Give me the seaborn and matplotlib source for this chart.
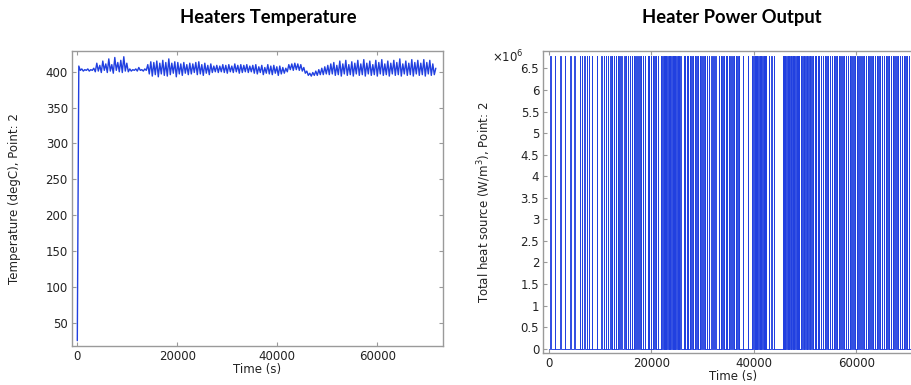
import matplotlib
matplotlib.use("Agg")
import numpy as np
import pandas as pd
import seaborn as sns
import matplotlib.pyplot as plt
from matplotlib.ticker import FuncFormatter

# ---------------- data ----------------
# Heater temperature (degC), one sample every 300 s starting at t = 0
temp_dt = 300
temperature = [
    25, 408, 402, 404, 401, 403, 402, 404, 401, 403,
    402, 405, 400, 412, 401, 409, 399, 415, 402, 411,
    399, 418, 401, 410, 398, 420, 402, 413, 400, 416,
    399, 421, 401, 412, 400, 404, 401, 403, 402, 404,
    401, 406, 402, 403, 401, 404, 402, 410, 397, 414,
    394, 413, 396, 415, 393, 412, 397, 416, 395, 413,
    394, 418, 396, 412, 398, 414, 393, 413, 397, 411,
    395, 413, 398, 410, 396, 412, 397, 411, 399, 413,
    396, 414, 397, 410, 395, 412, 398, 409, 396, 411,
    399, 408, 400, 409, 399, 408, 400, 410, 399, 409,
    398, 410, 400, 408, 399, 411, 400, 409, 398, 410,
    399, 409, 400, 410, 399, 408, 400, 409, 398, 410,
    397, 407, 399, 409, 396, 406, 398, 410, 397, 408,
    396, 409, 398, 407, 395, 408, 397, 406, 398, 405,
    400, 410, 403, 411, 402, 412, 403, 411, 402, 410,
    401, 406, 398, 401, 395, 398, 394, 399, 395, 401,
    395, 403, 396, 405, 396, 407, 397, 409, 396, 411,
    397, 413, 395, 409, 396, 415, 394, 411, 397, 416,
    395, 410, 396, 414, 394, 412, 397, 416, 395, 411,
    396, 417, 394, 412, 397, 415, 395, 410, 396, 416,
    394, 413, 397, 417, 395, 411, 396, 415, 394, 412,
    397, 416, 395, 413, 396, 418, 394, 411, 397, 415,
    395, 412, 396, 417, 394, 413, 397, 416, 395, 412,
    396, 417, 394, 413, 397, 416, 395, 411, 396, 405,
]

# Heater power: switch-on instants (s), each pulse lasting pulse_len seconds
power_on = 6.78e6
pulse_len = 60
pulse_starts = [
    300, 1250, 2250, 3200, 4200, 5000,
    6100, 6500, 6950, 7450, 7900, 8450, 9350,
    10300, 10700, 11100, 11600, 12000, 12300, 12700, 13100, 13500, 13800, 14200,
    14750, 15100, 15500, 15800, 16200, 16600, 16900, 17300, 17700, 18000, 18400, 18800,
    19300, 19600, 19950, 20300, 20600, 20950, 21250,
    21900, 22150, 22400, 22650, 22900, 23150, 23400, 23650, 23900, 24150, 24400,
    24650, 24900, 25150, 25400, 25650,
    26300, 26600, 26900, 27200, 27500, 27850, 28150, 28500, 28800, 29150, 29500,
    29800, 30150, 30500, 30900, 31300, 31700, 32100, 32500,
    33250, 33550, 33850, 34200, 34500, 34800, 35150, 35450, 35800, 36100, 36450, 36800,
    37150, 37900, 38800,
    39650, 39900, 40150, 40400, 40650, 40900, 41150, 41400, 41650, 41900, 42150, 42400,
    43000, 43400, 43950,
    45600, 45850, 46100, 46350, 46600, 46850, 47100, 47350, 47600, 47850, 48100,
    48350, 48600, 48850,
    49150, 49450, 49750, 50050, 50350, 50650, 50950, 51250, 51550, 51850, 52150,
    52450, 52750,
    53100, 53450, 53800, 54150, 54500, 54850, 55200, 55550, 55900,
    56250, 56580, 56900, 57300, 57620, 57950, 58350, 58700, 59020, 59400, 59750,
    60100, 60420, 60800, 61150, 61500, 61820, 62200, 62550, 62900, 63230, 63600,
    63950, 64300, 64620, 65000, 65350, 65700, 66020, 66400, 66750, 67100, 67420,
    67800, 68150, 68500, 68820, 69200, 69550, 69900, 70230, 70600, 70950, 71300,
]

x_ticks = [0, 20000, 40000, 60000]
temp_yticks = [50, 100, 150, 200, 250, 300, 350, 400]
power_yticks = [0, 0.5e6, 1e6, 1.5e6, 2e6, 2.5e6, 3e6, 3.5e6, 4e6, 4.5e6,
                5e6, 5.5e6, 6e6, 6.5e6]

# ---------------- frames ----------------
t_temp = np.arange(len(temperature)) * temp_dt
df_temp = pd.DataFrame({"Time": t_temp, "Temperature": temperature})

pt, pv = [0.0], [0.0]
for s in pulse_starts:
    pt += [s, s, s + pulse_len, s + pulse_len]
    pv += [0.0, power_on, power_on, 0.0]
pt.append(71500.0)
pv.append(0.0)
df_pow = pd.DataFrame({"Time": pt, "Power": pv})

# ---------------- style ----------------
sns.set_theme(style="white")
plt.rcParams["font.family"] = ["DejaVu Sans"]
line_col = "#2140e0"
spine_col = "#9a9a9a"
txt_col = "#222222"
tick_fs = 8.5

fig = plt.figure(figsize=(9.12, 3.85), dpi=100)
ax1 = fig.add_axes([72 / 912, (385 - 345.7) / 385, 371 / 912, (345.7 - 51) / 385])
ax2 = fig.add_axes([543.3 / 912, (385 - 353) / 385, 379.7 / 912, (353 - 50.7) / 385])

sns.lineplot(data=df_temp, x="Time", y="Temperature", ax=ax1, color=line_col,
             lw=1.0, estimator=None, sort=False)
sns.lineplot(data=df_pow, x="Time", y="Power", ax=ax2, color=line_col,
             lw=0.65, estimator=None, sort=False)

ax1.set_xlim(-1060, 73140)
ax1.set_ylim(18, 429)
ax1.set_yticks(temp_yticks)
ax2.set_xlim(-1050, 73000)
ax2.set_ylim(-0.1e6, 6.91e6)
ax2.set_yticks(power_yticks)
ax2.yaxis.set_major_formatter(FuncFormatter(lambda v, p: f"{v / 1e6:g}"))

for ax in (ax1, ax2):
    ax.set_xticks(x_ticks)
    ax.tick_params(direction="in", length=3, width=0.8, color=spine_col,
                   labelsize=tick_fs, labelcolor=txt_col, pad=3,
                   top=True, right=True, bottom=True, left=True)
    for sp in ax.spines.values():
        sp.set_color(spine_col)
        sp.set_linewidth(1.0)
    ax.set_xlabel("Time (s)", fontsize=tick_fs, color=txt_col, labelpad=0)
    ax.grid(False)

ax1.set_ylabel("Temperature (degC), Point: 2", fontsize=tick_fs, color=txt_col,
               labelpad=18)
ax2.set_ylabel("Total heat source (W/m$^3$), Point: 2", fontsize=tick_fs,
               color=txt_col, labelpad=20)
ax2.text(-0.094, 0.979, "×10$^6$", transform=ax2.transAxes, ha="center",
         va="center", fontsize=tick_fs, color=txt_col)

fig.text(268 / 912, 1 - 17 / 385, "Heaters Temperature", ha="center", va="center",
         fontsize=13.2, fontweight="bold", color="black",
         family=["Lato", "DejaVu Sans"])
fig.text(732 / 912, 1 - 17 / 385, "Heater Power Output", ha="center", va="center",
         fontsize=13.2, fontweight="bold", color="black",
         family=["Lato", "DejaVu Sans"])

fig.savefig("out.png", dpi=100)
